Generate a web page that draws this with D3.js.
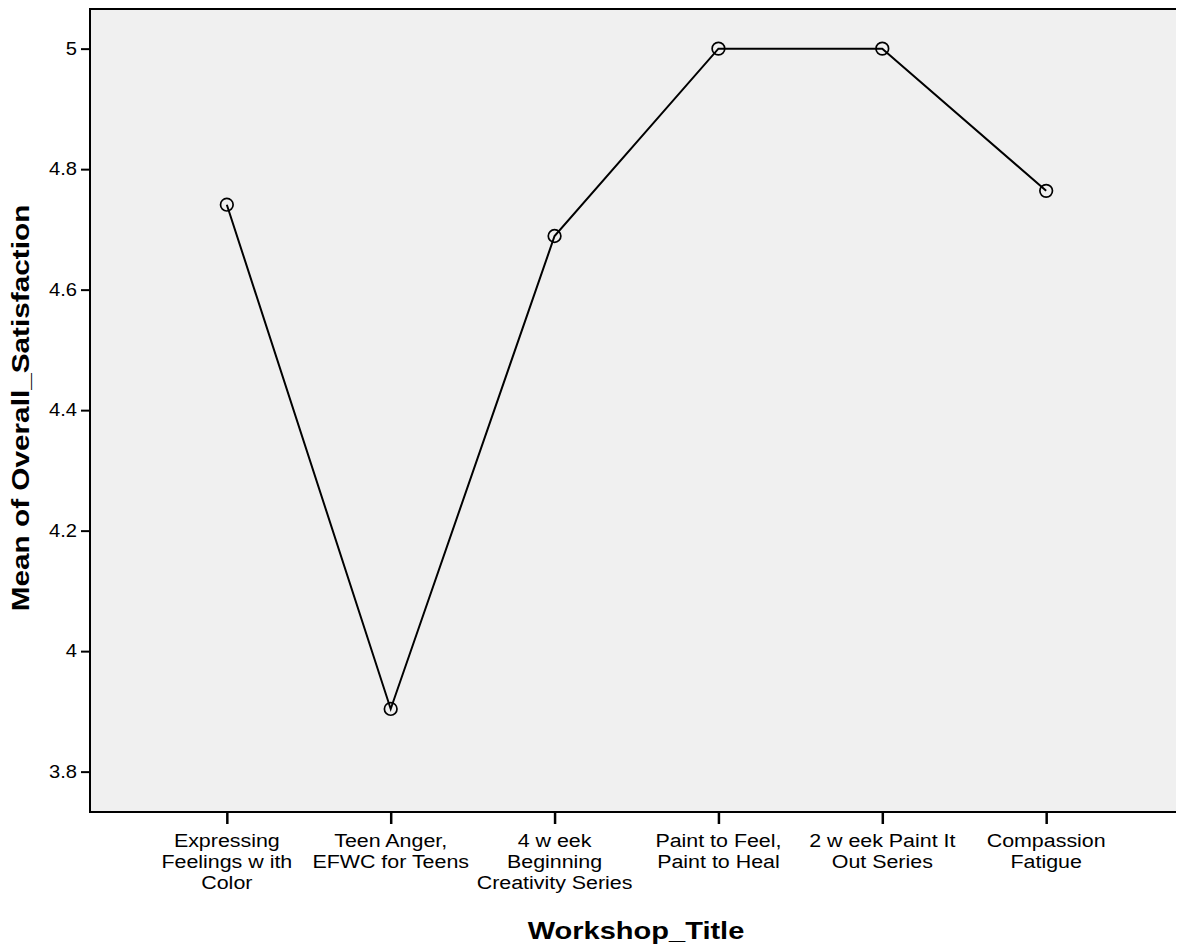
<!DOCTYPE html>
<html>
<head>
<meta charset="utf-8">
<script src="https://cdn.jsdelivr.net/npm/d3@7"></script>
<style>
  html, body { margin: 0; padding: 0; background: #fff; }
  svg { display: block; }
  text { font-family: "Liberation Sans", Arial, sans-serif; fill: #000; }
</style>
</head>
<body>
<svg id="chart" width="1177" height="947"></svg>
<script>
// ---- data ----
const categories = [
  ["Expressing", "Feelings w ith", "Color"],
  ["Teen Anger,", "EFWC for Teens"],
  ["4 w eek", "Beginning", "Creativity Series"],
  ["Paint to Feel,", "Paint to Heal"],
  ["2 w eek Paint It", "Out Series"],
  ["Compassion", "Fatigue"]
];
const categoryKeys = ["c1", "c2", "c3", "c4", "c5", "c6"];
const meanSatisfaction = [4.741, 3.904, 4.689, 5.0, 5.0, 4.764];
const yTicks = [3.8, 4.0, 4.2, 4.4, 4.6, 4.8, 5.0];
const xTitle = "Workshop_Title";
const yTitle = "Mean of Overall_Satisfaction";

// ---- layout ----
const svg = d3.select("#chart");
const plotL = 90, plotT = 9, plotR = 1176, plotB = 812;
const stretch = 1.19; // reference text is horizontally wider than Liberation Sans

const x = d3.scalePoint()
  .domain(categoryKeys)
  .range([plotL, 1183])
  .padding(0.835);

const y = d3.scaleLinear()
  .domain([3.733, 5.0658])
  .range([plotB, plotT]);

// plot background
svg.append("rect")
  .attr("x", plotL).attr("y", plotT)
  .attr("width", plotR - plotL).attr("height", plotB - plotT)
  .attr("fill", "#f0f0f0");

// frame (left, top, bottom)
svg.append("path")
  .attr("d", `M${plotR},${plotT}H${plotL}V${plotB}H${plotR}`)
  .attr("fill", "none").attr("stroke", "#000").attr("stroke-width", 2);

// y axis
const yAxis = d3.axisLeft(y)
  .tickValues(yTicks)
  .tickSize(9)
  .tickPadding(3)
  .tickFormat(d => String(+d.toFixed(1)));
const gy = svg.append("g").attr("transform", `translate(${plotL},0)`).call(yAxis);
gy.select(".domain").remove();
gy.selectAll(".tick line").attr("stroke", "#000").attr("stroke-width", 2);
gy.selectAll(".tick text")
  .attr("x", 0)
  .attr("transform", `translate(-13,0) scale(1.12,1)`)
  .attr("font-size", 18)
  .attr("font-family", "Liberation Sans, Arial, sans-serif")
  .attr("fill", "#000");

// x axis
const xAxis = d3.axisBottom(x).tickSize(12).tickFormat("");
const gx = svg.append("g").attr("transform", `translate(0,${plotB})`).call(xAxis);
gx.select(".domain").remove();
gx.selectAll(".tick line").attr("stroke", "#000").attr("stroke-width", 2.5);

// multi-line category labels
categoryKeys.forEach((k, i) => {
  const t = svg.append("text")
    .attr("transform", `translate(${x(k)},847) scale(${stretch},1)`)
    .attr("text-anchor", "middle")
    .attr("font-size", 18);
  categories[i].forEach((line, j) => {
    t.append("tspan")
      .attr("x", 0)
      .attr("dy", j === 0 ? 0 : 21.2)
      .text(line);
  });
});

// line
const pts = categoryKeys.map((k, i) => [x(k), y(meanSatisfaction[i])]);
svg.append("path")
  .attr("d", d3.line()(pts))
  .attr("fill", "none")
  .attr("stroke", "#000")
  .attr("stroke-width", 2);

// markers
svg.selectAll("circle.pt")
  .data(meanSatisfaction)
  .enter().append("circle")
  .attr("class", "pt")
  .attr("cx", (d, i) => x(categoryKeys[i]))
  .attr("cy", d => y(d))
  .attr("r", 6.3)
  .attr("fill", "none")
  .attr("stroke", "#000")
  .attr("stroke-width", 1.7);

// axis titles
svg.append("text")
  .attr("transform", `translate(636,939) scale(1.21,1)`)
  .attr("text-anchor", "middle")
  .attr("font-size", 24)
  .attr("font-weight", "bold")
  .text(xTitle);

svg.append("text")
  .attr("transform", "translate(29,408) rotate(-90) scale(1.24,1)")
  .attr("text-anchor", "middle")
  .attr("font-size", 24)
  .attr("font-weight", "bold")
  .text(yTitle);
</script>
</body>
</html>
